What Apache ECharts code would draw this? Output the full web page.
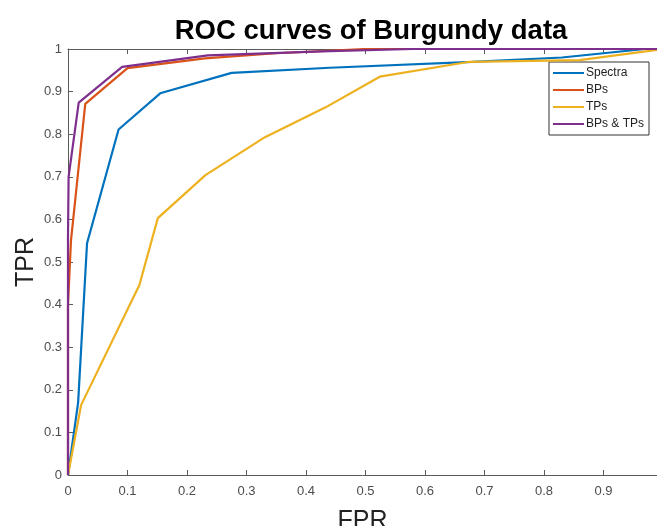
<!DOCTYPE html>
<html><head><meta charset="utf-8">
<script src="https://cdn.jsdelivr.net/npm/echarts@6/dist/echarts.min.js"></script>
<style>html,body{margin:0;padding:0;background:#fff}#c{width:657px;height:526px}</style>
</head><body><div id="c"></div>
<script>
const seriesNames = ['Spectra', 'BPs', 'TPs', 'BPs & TPs'];
const spectraFPR = [0, 0.017, 0.032, 0.085, 0.155, 0.275, 0.44, 0.68, 0.83, 0.9, 0.97, 1];
const spectraTPR = [0, 0.17, 0.544, 0.811, 0.896, 0.944, 0.956, 0.97, 0.98, 0.99, 1, 1];
const bpsFPR = [0, 0, 0.005, 0.029, 0.1, 0.23, 0.35, 0.5, 1];
const bpsTPR = [0, 0.4, 0.55, 0.871, 0.955, 0.978, 0.99, 1, 1];
const tpsFPR = [0, 0.022, 0.12, 0.151, 0.231, 0.331, 0.433, 0.524, 0.675, 0.86, 1];
const tpsTPR = [0, 0.164, 0.446, 0.603, 0.704, 0.793, 0.863, 0.935, 0.97, 0.974, 1];
const bothFPR = [0, 0, 0.001, 0.018, 0.091, 0.235, 0.44, 0.58, 1];
const bothTPR = [0, 0.56, 0.70, 0.874, 0.958, 0.985, 0.995, 1, 1];
const colors = ['#0072BD', '#D95319', '#EDB120', '#7E2F8E'];

function pairs(xs, ys) { return xs.map((x, i) => [x, ys[i]]); }
const dataSets = [pairs(spectraFPR, spectraTPR), pairs(bpsFPR, bpsTPR), pairs(tpsFPR, tpsTPR), pairs(bothFPR, bothTPR)];

const axisCol = '#5a5a5a';
const labelCol = '#4d4d4d';
const font = 'Liberation Sans, Arial, sans-serif';
const chart = echarts.init(document.getElementById('c'));
chart.setOption({
  animation: false,
  textStyle: { fontFamily: font },
  title: {
    text: 'ROC curves of Burgundy data', left: 366, top: 12, textAlign: 'center',
    textStyle: { fontSize: 27.5, fontWeight: 'bold', color: '#000', fontFamily: font }
  },
  grid: { left: 68, top: 49, right: 0, bottom: 51, outerBoundsMode: 'none', containLabel: false },
  legend: {
    right: 8, top: 62, orient: 'vertical', itemGap: 5, itemWidth: 31, itemHeight: 2,
    padding: [5, 5, 5, 4], borderColor: '#333', borderWidth: 1, backgroundColor: '#fff',
    textStyle: { fontSize: 12, color: '#222', padding: [0, 0, 0, -3] },
    icon: 'rect', data: seriesNames
  },
  xAxis: [{
    type: 'value', min: 0, max: 0.99, interval: 0.1,
    name: 'FPR', nameLocation: 'middle', nameGap: 34, nameMoveOverlap: false,
    nameTextStyle: { fontSize: 25, color: '#222' },
    axisLine: { lineStyle: { color: axisCol } },
    axisTick: { inside: true, length: 5, lineStyle: { color: axisCol } },
    axisLabel: { color: labelCol, fontSize: 13, margin: 10, showMaxLabel: false },
    splitLine: { show: false }
  }, {
    type: 'value', min: 0, max: 0.99, interval: 0.1, position: 'top',
    axisLine: { show: true, lineStyle: { color: axisCol } },
    axisTick: { inside: true, length: 5, lineStyle: { color: axisCol } },
    axisLabel: { show: false }, splitLine: { show: false }
  }],
  yAxis: [{
    type: 'value', min: 0, max: 1, interval: 0.1,
    name: 'TPR', nameLocation: 'middle', nameGap: 29, nameRotate: 90, nameMoveOverlap: false,
    nameTextStyle: { fontSize: 25, color: '#222' },
    axisLine: { show: true, lineStyle: { color: axisCol } },
    axisTick: { show: true, inside: true, length: 5, lineStyle: { color: axisCol } },
    axisLabel: { color: labelCol, fontSize: 13, margin: 6 },
    splitLine: { show: false }
  }],
  series: seriesNames.map((n, i) => ({
    name: n, type: 'line', data: dataSets[i], symbol: 'none', clip: true,
    lineStyle: { width: 2.2, color: colors[i] }, itemStyle: { color: colors[i] }, z: 2 + i
  }))
});
</script></body></html>
